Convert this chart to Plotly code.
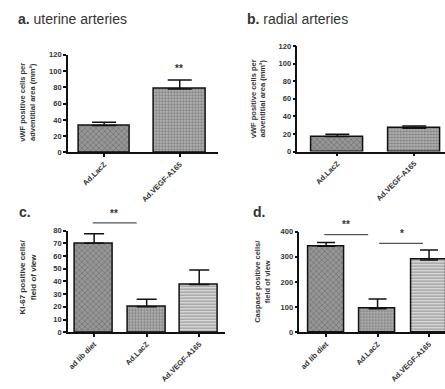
import plotly.graph_objects as go

W, H = 445, 389

# ---------------- data ----------------
cats_ab = ["Ad.LacZ", "Ad.VEGF-A165"]
vwf_uterine = [33, 78]
vwf_uterine_sem = [4, 11]
vwf_radial = [17, 26.5]
vwf_radial_sem = [2.5, 2.5]

cats_cd = ["ad lib diet", "Ad.LacZ", "Ad.VEGF-A165"]
ki67 = [70, 20, 37.5]
ki67_sem = [7.5, 6, 11.5]
caspase = [342, 93, 287]
caspase_sem = [15, 39, 40]

# ---------------- helpers ----------------
def px(x):
    return x / W

def py(y):
    return 1 - y / H

FONT = "Liberation Sans, Arial, sans-serif"
TXT = "#333333"

STYLE = {
    "hatch": dict(shape="x", bg="#969696", fg="#6c6c6c", size=4, sol=0.3),
    "dots": dict(shape=".", bg="#bcbcbc", fg="#262626", size=3, sol=0.5),
    "lines": dict(shape="-", bg="#e2e2e2", fg="#9a9a9a", size=3, sol=0.45),
}

def bar_trace(cats, vals, errs, styles, xa, ya, width, cap):
    st = [STYLE[s] for s in styles]
    return go.Bar(
        x=cats, y=vals, xaxis=xa, yaxis=ya, width=width,
        marker=dict(
            color=[s["bg"] for s in st],
            line=dict(color="#111111", width=1.5),
            pattern=dict(
                shape=[s["shape"] for s in st],
                bgcolor=[s["bg"] for s in st],
                fgcolor=[s["fg"] for s in st],
                size=[s["size"] for s in st],
                solidity=[s["sol"] for s in st],
                fillmode="overlay",
            ),
        ),
        error_y=dict(type="data", symmetric=False, array=errs,
                     arrayminus=[0] * len(errs), color="#111111",
                     thickness=1.5, width=cap),
        showlegend=False, hoverinfo="x+y",
    )

fig = go.Figure()
fig.add_trace(bar_trace(cats_ab, vwf_uterine, vwf_uterine_sem,
                        ["hatch", "dots"], "x", "y", 0.68, 12))
fig.add_trace(bar_trace(cats_ab, vwf_radial, vwf_radial_sem,
                        ["hatch", "dots"], "x2", "y2", 0.67, 12))
fig.add_trace(bar_trace(cats_cd, ki67, ki67_sem,
                        ["hatch", "dots", "lines"], "x3", "y3", 0.72, 10))
fig.add_trace(bar_trace(cats_cd, caspase, caspase_sem,
                        ["hatch", "dots", "lines"], "x4", "y4", 0.69, 9))

tickfont = dict(family=FONT, size=7.5, color=TXT, weight="bold")

def xaxis(dom, rng):
    return dict(domain=[px(dom[0]), px(dom[1])], type="category", range=rng,
                showline=True, linecolor="#111111", linewidth=1.5,
                ticks="outside", ticklen=3, tickwidth=1.5, tickcolor="#111111",
                tickangle=-45, tickfont=tickfont, showgrid=False,
                zeroline=False, fixedrange=True)

def yaxis(dom, rng, dtick, anchor):
    return dict(domain=[py(dom[1]), py(dom[0])], range=rng, dtick=dtick,
                showline=True, linecolor="#111111", linewidth=1.5,
                ticks="outside", ticklen=3, tickwidth=1.5, tickcolor="#111111",
                tickfont=tickfont, showgrid=False, zeroline=False,
                anchor=anchor, fixedrange=True)

fig.update_layout(
    width=W, height=H, margin=dict(l=0, r=0, t=0, b=0),
    paper_bgcolor="white", plot_bgcolor="white", bargap=0,
    xaxis=dict(xaxis((67, 217), [-0.48, 1.5]), anchor="y"),
    yaxis=yaxis((52, 152), [0, 120], 20, "x"),
    xaxis2=dict(xaxis((297, 445), [-0.52, 1.4]), anchor="y2"),
    yaxis2=yaxis((43, 151), [0, 120], 20, "x2"),
    xaxis3=dict(xaxis((67, 225), [-0.5, 2.5]), anchor="y3"),
    yaxis3=yaxis((232, 336), [0, 80], 10, "x3"),
    xaxis4=dict(xaxis((299, 445), [-0.52, 2.31]), anchor="y4"),
    yaxis4=yaxis((233, 336), [0, 400], 100, "x4"),
)

ann = []

def text(x, y, s, size, angle=0, xanchor="left"):
    ann.append(dict(x=px(x), y=py(y), xref="paper", yref="paper", text=s,
                    showarrow=False, xanchor=xanchor, yanchor="middle",
                    textangle=angle,
                    font=dict(family=FONT, size=size, color=TXT)))

# panel headings
text(15, 15, "<b>a.</b> uterine arteries", 14)
text(245, 15, "<b>b.</b> radial arteries", 14)
text(16, 213, "<b>c.</b>", 14)
text(251, 213, "<b>d.</b>", 14)

# y-axis titles
text(27, 100, "<b>vWF positive cells per<br>adventitial area (mm²)</b>", 7.5, -90, "center")
text(258, 97, "<b>vWF positive cells per<br>adventitial area (mm²)</b>", 7.5, -90, "center")
text(27, 279, "<b>Ki-67 positive cells/<br>field of view</b>", 8, -90, "center")
text(262, 284, "<b>Caspase positive cells/<br>field of view</b>", 7.5, -90, "center")

# significance marks
text(178, 66, "<b>**</b>", 10, 0, "center")
text(113, 214, "<b>**</b>", 10, 0, "center")
text(346, 226, "<b>**</b>", 10, 0, "center")
text(402, 235, "<b>*</b>", 10, 0, "center")

shapes = []
for (x0, x1, y) in [(92, 136, 224), (324, 368, 236), (379, 423, 245)]:
    shapes.append(dict(type="line", xref="paper", yref="paper",
                       x0=px(x0), x1=px(x1), y0=py(y), y1=py(y),
                       line=dict(color="#555555", width=1.2)))

fig.update_layout(annotations=ann, shapes=shapes)
fig.write_html("out.html")
